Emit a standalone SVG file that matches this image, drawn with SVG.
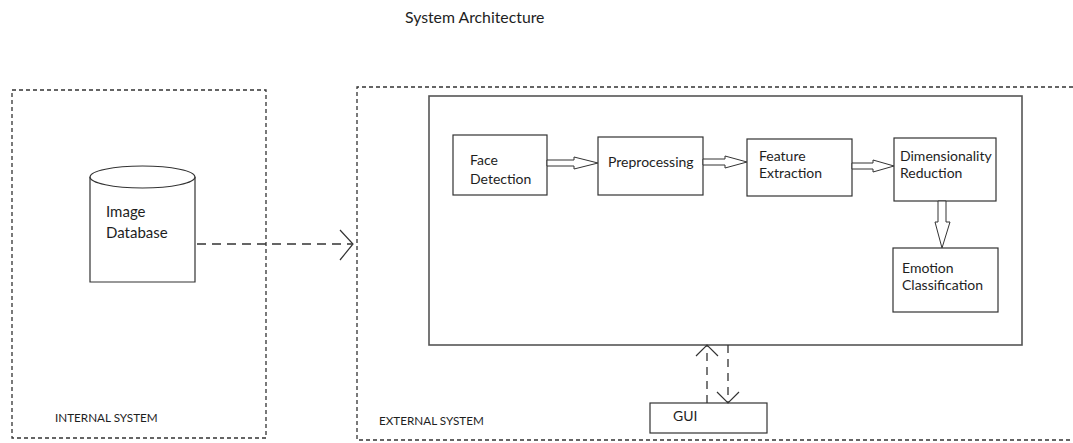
<svg xmlns="http://www.w3.org/2000/svg" width="1073" height="443" viewBox="0 0 1073 443">
<style>
text{font-family:Lato,"Open Sans","Liberation Sans",sans-serif;fill:#1e1e1e}
.t{font-size:14px}
.s{font-size:11.7px}
.dash{fill:none;stroke:#333;stroke-width:1.3;stroke-dasharray:4 3}
.box{fill:#fff;stroke:#333;stroke-width:1.2}
.arr{fill:#fff;stroke:#333;stroke-width:1}
.ln{fill:none;stroke:#333;stroke-width:1.2}
</style>
<rect width="1073" height="443" fill="#fff"/>
<text x="405" y="23" style="font-size:15.8px">System Architecture</text>

<g id="internal-system">
<rect class="dash" x="12" y="90" width="254" height="348"/>
<text class="s" x="55" y="422">INTERNAL SYSTEM</text>
</g>

<g id="image-database">
<path class="ln" d="M90,177 V282 H195 V177" style="fill:#fff"/>
<ellipse cx="142.5" cy="177" rx="52.5" ry="11" fill="#fff" stroke="#333" stroke-width="1.2"/>
<text x="106" y="217" style="font-size:15px">Image</text>
<text x="106" y="238" style="font-size:15px">Database</text>
</g>

<g id="external-system">
<path class="dash" d="M1073,87 H357 V440 H1073"/>
<text class="s" x="379" y="425">EXTERNAL SYSTEM</text>
</g>

<g id="processing-block">
<rect x="429" y="96" width="593" height="249" fill="none" stroke="#555" stroke-width="1.6"/>
</g>

<g id="face-detection">
<rect class="box" x="453" y="135" width="94" height="60"/>
<text class="t" x="470" y="165">Face</text>
<text class="t" x="470" y="184">Detection</text>
</g>

<g id="preprocessing">
<rect class="box" x="598" y="137" width="105" height="58"/>
<text class="t" x="608" y="167">Preprocessing</text>
</g>

<g id="feature-extraction">
<rect class="box" x="747" y="139" width="105" height="57"/>
<text class="t" x="759" y="161">Feature</text>
<text class="t" x="759" y="178">Extraction</text>
</g>

<g id="dimensionality-reduction">
<rect class="box" x="894" y="138" width="102" height="63"/>
<text class="t" x="900" y="161">Dimensionality</text>
<text class="t" x="900" y="178">Reduction</text>
</g>

<g id="emotion-classification">
<rect class="box" x="893" y="248" width="105" height="64"/>
<text class="t" x="902" y="273">Emotion</text>
<text class="t" x="902" y="290">Classification</text>
</g>

<g id="gui">
<rect class="box" x="650" y="403" width="117" height="30"/>
<text class="t" x="673" y="421">GUI</text>
</g>

<g id="connectors">
<line x1="197" y1="244" x2="352" y2="244" stroke="#333" stroke-width="1.3" stroke-dasharray="9 6"/>
<polyline class="ln" points="340,230 353,244 340,260"/>
<path class="arr" d="M547,160 H574 V157 L598,163 L574,169 V166 H547 Z"/>
<path class="arr" d="M703,159 H725 V156 L747,162 L725,168 V165 H703 Z"/>
<path class="arr" d="M852,163 H873 V160 L894,166 L873,172 V169 H852 Z"/>
<path class="arr" d="M938,201 V222 H935 L942,248 L950,222 H946 V201 Z"/>
<line x1="707" y1="403" x2="707" y2="346" stroke="#333" stroke-width="1.3" stroke-dasharray="8 6"/>
<polyline class="ln" points="696,356 707,345 718,356"/>
<line x1="728" y1="345" x2="728" y2="402" stroke="#333" stroke-width="1.3" stroke-dasharray="8 6"/>
<polyline class="ln" points="717,392 728,403 739,392"/>
</g>
</svg>
